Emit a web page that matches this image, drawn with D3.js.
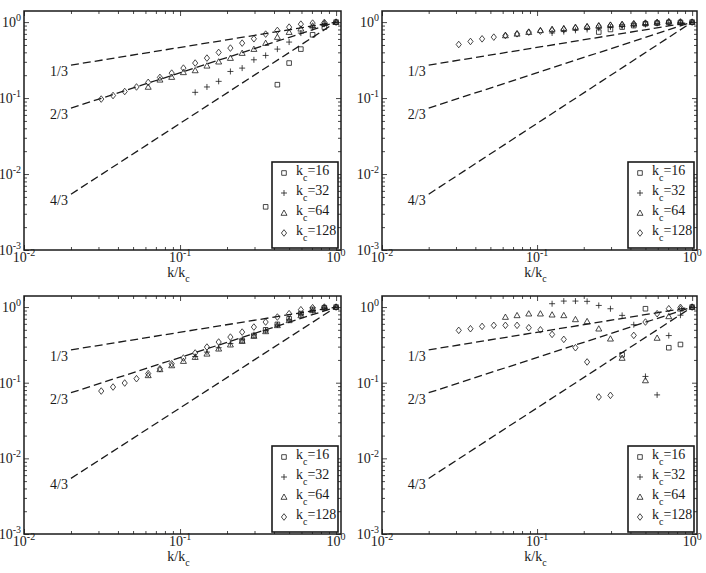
<!DOCTYPE html>
<html>
<head>
<meta charset="utf-8">
<script src="https://cdn.jsdelivr.net/npm/d3@7/dist/d3.min.js"></script>
<style>
body { margin: 0; background: #fff; }
svg { display: block; font-family: "Liberation Serif", "Times New Roman", serif; }
</style>
</head>
<body>
<div id="holder"></div>
<script>
var width = 706;
var height = 573;

// k/kc bins (quarter octaves)
var kx = [0.03125, 0.0372, 0.0442, 0.0526, 0.0625, 0.0743, 0.0884, 0.1051, 0.125, 0.1487,
          0.1768, 0.2102, 0.25, 0.2973, 0.3536, 0.4204, 0.5, 0.5946, 0.7071, 0.8409, 1.0];
var kcLabels = ["16", "32", "64", "128"];
var kcStart = [12, 8, 4, 0];   // index in kx of the first bin of each series

// panel 1 (top left)
var p1Kc16  = [null, null, 0.0037, 0.150, 0.289, 0.441, 0.681, 0.859, 1.0];
var p1Kc32  = [0.119, 0.140, 0.166, 0.224, 0.248, 0.319, 0.364, 0.441, 0.546, 0.717, 0.851, 0.94, 1.0];
var p1Kc64  = [0.140, 0.174, 0.189, 0.218, 0.231, 0.266, 0.301, 0.336, 0.391, 0.441, 0.529, 0.635, 0.738, 0.817, 0.895, 0.97, 1.0];
var p1Kc128 = [0.097, 0.108, 0.122, 0.140, 0.161, 0.187, 0.213, 0.248, 0.289, 0.336, 0.399, 0.455, 0.529, 0.603, 0.695, 0.776, 0.859, 0.94, 0.97, 0.99, 1.0];

// panel 2 (top right)
var p2Kc16  = [0.74, 0.80, 0.86, 0.90, 0.95, 0.97, 0.99, 0.99, 1.0];
var p2Kc32  = [0.72, 0.75, 0.78, 0.80, 0.83, 0.86, 0.88, 0.91, 0.93, 0.96, 0.98, 0.99, 1.0];
var p2Kc64  = [0.667, 0.701, 0.738, 0.78, 0.81, 0.83, 0.86, 0.88, 0.90, 0.92, 0.94, 0.95, 0.97, 0.99, 1.02, 1.01, 1.0];
var p2Kc128 = [0.507, 0.556, 0.602, 0.634, 0.667, 0.701, 0.738, 0.760, 0.776, 0.800, 0.834, 0.859, 0.885, 0.904, 0.922, 0.951, 0.97, 0.99, 1.0, 1.0, 1.0];

// panel 3 (bottom left)
var p3Kc16  = [0.36, 0.42, 0.50, 0.59, 0.70, 0.82, 0.93, 0.98, 1.0];
var p3Kc32  = [0.222, 0.254, 0.29, 0.33, 0.37, 0.43, 0.49, 0.58, 0.68, 0.80, 0.90, 0.98, 1.0];
var p3Kc64  = [0.125, 0.150, 0.169, 0.193, 0.218, 0.241, 0.281, 0.318, 0.355, 0.414, 0.477, 0.573, 0.667, 0.776, 0.904, 0.98, 1.0];
var p3Kc128 = [0.0776, 0.0877, 0.099, 0.113, 0.132, 0.153, 0.178, 0.212, 0.247, 0.296, 0.345, 0.401, 0.467, 0.544, 0.634, 0.738, 0.817, 0.922, 0.98, 1.0, 1.0];

// panel 4 (bottom right)
var p4Kc16  = [null, null, 0.234, null, 0.95, null, 0.29, 0.32, 1.0];
var p4Kc32  = [1.107, 1.2, 1.2, 1.19, 1.05, 0.95, 0.776, 0.584, 0.121, 0.069, 0.42, 0.78, 1.0];
var p4Kc64  = [0.738, 0.776, 0.817, 0.817, 0.792, 0.776, 0.687, 0.647, 0.517, 0.381, 0.212, null, 0.107, 0.39, 0.753, 0.95, 1.0];
var p4Kc128 = [0.492, 0.517, 0.555, 0.573, 0.573, 0.573, 0.533, 0.50, 0.435, 0.374, 0.290, 0.188, 0.0647, 0.068, null, 0.422, 0.634, 0.817, 0.95, 0.99, 1.0];

// reference power laws
var slopes = [1/3, 2/3, 4/3];
var slopeLabels = ["1/3", "2/3", "4/3"];
var refRange = [0.02, 1];

var xMajor = [0.01, 0.1, 1];
var yMajor = [0.001, 0.01, 0.1, 1];
var xMajorExp = ["-2", "-1", "0"];
var yMajorExp = ["-3", "-2", "-1", "0"];

var panels = [
  {x0: 24,  x1: 341, y0: 11,  y1: 250, series: [p1Kc16, p1Kc32, p1Kc64, p1Kc128]},
  {x0: 382, x1: 697, y0: 11,  y1: 250, series: [p2Kc16, p2Kc32, p2Kc64, p2Kc128]},
  {x0: 24,  x1: 341, y0: 296, y1: 534, series: [p3Kc16, p3Kc32, p3Kc64, p3Kc128]},
  {x0: 382, x1: 697, y0: 296, y1: 534, series: [p4Kc16, p4Kc32, p4Kc64, p4Kc128]}
];

var ink = "#1a1a1a";

function markerPath(type) {
  if (type == 0) return "M-2.3,-2.3H2.3V2.3H-2.3Z";
  if (type == 1) return "M-3,0H3M0,-3V3";
  if (type == 2) return "M0,-3L3,2.3H-3Z";
  return "M0,-3.3L2.6,0L0,3.3L-2.6,0Z";
}

function isMajor(v) {
  var l = Math.log10(v);
  return Math.abs(l - Math.round(l)) < 1e-6;
}

var svg = d3.select("#holder")
  .append("svg")
  .attr("width", width)
  .attr("height", height);

panels.forEach(function(p) {
  var g = svg.append("g");
  var x = d3.scaleLog().domain([0.01, 1.075]).range([p.x0, p.x1]);
  var y = d3.scaleLog().domain([0.001, 1.4]).range([p.y1, p.y0]);

  var xMinor = x.ticks().filter(function(v){ return !isMajor(v); });
  var yMinor = y.ticks().filter(function(v){ return !isMajor(v) && v < 1.4; });

  // ticks on all four sides
  function addAxis(axis, tx, ty) {
    g.append("g")
      .attr("transform", "translate(" + tx + "," + ty + ")")
      .call(axis)
      .call(function(s){ s.select(".domain").remove(); })
      .selectAll("line").attr("stroke", ink).attr("stroke-width", 0.8);
  }
  addAxis(d3.axisBottom(x).tickValues(xMajor).tickSize(-5).tickFormat(""), 0, p.y1);
  addAxis(d3.axisBottom(x).tickValues(xMinor).tickSize(-3).tickFormat(""), 0, p.y1);
  addAxis(d3.axisTop(x).tickValues(xMajor).tickSize(-5).tickFormat(""), 0, p.y0);
  addAxis(d3.axisTop(x).tickValues(xMinor).tickSize(-3).tickFormat(""), 0, p.y0);
  addAxis(d3.axisLeft(y).tickValues(yMajor).tickSize(-5).tickFormat(""), p.x0, 0);
  addAxis(d3.axisLeft(y).tickValues(yMinor).tickSize(-3).tickFormat(""), p.x0, 0);
  addAxis(d3.axisRight(y).tickValues(yMajor).tickSize(-5).tickFormat(""), p.x1, 0);
  addAxis(d3.axisRight(y).tickValues(yMinor).tickSize(-3).tickFormat(""), p.x1, 0);

  // tick labels 10^n
  xMajor.forEach(function(v, i) {
    var t = g.append("text")
      .attr("x", x(v))
      .attr("y", p.y1 + 12)
      .attr("text-anchor", "middle")
      .attr("font-size", 14)
      .attr("fill", ink);
    t.append("tspan").text("10");
    t.append("tspan").attr("dy", -6).attr("font-size", 10).text(xMajorExp[i]);
  });
  yMajor.forEach(function(v, i) {
    var t = g.append("text")
      .attr("x", p.x0 - 3)
      .attr("y", y(v) + 5)
      .attr("text-anchor", "end")
      .attr("font-size", 14)
      .attr("fill", ink);
    t.append("tspan").text("10");
    t.append("tspan").attr("dy", -6).attr("font-size", 10).text(yMajorExp[i]);
  });

  // x label k/k_c
  var xl = g.append("text")
    .attr("x", (p.x0 + p.x1) / 2 - 4)
    .attr("y", p.y1 + 27)
    .attr("text-anchor", "middle")
    .attr("font-size", 14)
    .attr("fill", ink);
  xl.append("tspan").text("k/k");
  xl.append("tspan").attr("dy", 5).attr("font-size", 10).text("c");

  // reference lines
  slopes.forEach(function(s, i) {
    g.append("line")
      .attr("x1", x(refRange[0]))
      .attr("y1", y(Math.pow(refRange[0], s)))
      .attr("x2", x(refRange[1]))
      .attr("y2", y(Math.pow(refRange[1], s)))
      .attr("stroke", ink)
      .attr("stroke-width", 1.3)
      .attr("stroke-dasharray", "8,4");
    g.append("text")
      .attr("x", x(refRange[0]) - 3)
      .attr("y", y(Math.pow(refRange[0], s)) + 11)
      .attr("text-anchor", "end")
      .attr("font-size", 14)
      .attr("fill", ink)
      .text(slopeLabels[i]);
  });

  // data markers
  p.series.forEach(function(vals, si) {
    var pts = [];
    vals.forEach(function(v, j) {
      if (v != null) pts.push([kx[kcStart[si] + j], v]);
    });
    g.append("g").selectAll("path")
      .data(pts)
      .enter().append("path")
      .attr("transform", function(d){ return "translate(" + x(d[0]) + "," + y(d[1]) + ")"; })
      .attr("d", markerPath(si))
      .attr("fill", "none")
      .attr("stroke", ink)
      .attr("stroke-width", 0.8);
  });

  // frame
  g.append("rect")
    .attr("x", p.x0).attr("y", p.y0)
    .attr("width", p.x1 - p.x0).attr("height", p.y1 - p.y0)
    .attr("fill", "none").attr("stroke", ink).attr("stroke-width", 1.5);

  // legend
  var lw = 66, lh = 86;
  var lx = p.x1 - 3 - lw, ly = p.y1 - 2 - lh;
  var lg = g.append("g").attr("transform", "translate(" + lx + "," + ly + ")");
  lg.append("rect")
    .attr("width", lw).attr("height", lh)
    .attr("fill", "#fff").attr("stroke", ink).attr("stroke-width", 1.6);
  kcLabels.forEach(function(lab, i) {
    var cy = 11 + i * 20;
    lg.append("path")
      .attr("transform", "translate(12," + cy + ")")
      .attr("d", markerPath(i))
      .attr("fill", "none").attr("stroke", ink).attr("stroke-width", 0.8);
    var t = lg.append("text")
      .attr("x", 24).attr("y", cy + 2)
      .attr("font-size", 14).attr("fill", ink);
    t.append("tspan").text("k");
    t.append("tspan").attr("dy", 6).attr("font-size", 10).text("c");
    t.append("tspan").attr("dy", -6).text("=" + lab);
  });
});
</script>
</body>
</html>
